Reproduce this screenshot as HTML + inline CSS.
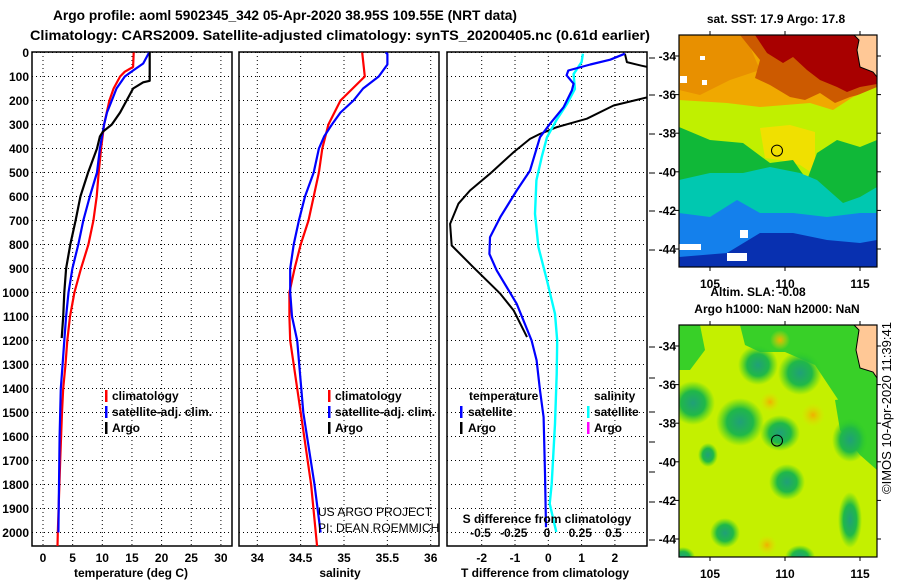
<!DOCTYPE html>
<html><head><meta charset="utf-8"><style>
html,body{margin:0;padding:0;background:#fff;}
svg{display:block;font-family:"Liberation Sans",sans-serif;}
.b{font-weight:bold;font-size:12px;}
</style></head><body>
<svg id="fig" width="900" height="580" viewBox="0 0 900 580" xmlns="http://www.w3.org/2000/svg">
<text x="285" y="20" text-anchor="middle" font-weight="bold" font-size="14" textLength="464" lengthAdjust="spacingAndGlyphs">Argo profile: aoml 5902345_342 05-Apr-2020 38.95S 109.55E (NRT data)</text>
<text x="340" y="40" text-anchor="middle" font-weight="bold" font-size="14" textLength="620" lengthAdjust="spacingAndGlyphs">Climatology: CARS2009. Satellite-adjusted climatology: synTS_20200405.nc (0.61d earlier)</text>
<g id="panels"></g>
<g id="maps"></g>
</svg>
<script>
// ---------- data ----------
const depthTicks = [0,100,200,300,400,500,600,700,800,900,1000,1100,1200,1300,1400,1500,1600,1700,1800,1900,2000];
const tempTicks = [0,5,10,15,20,25,30];
const salTicks = [34,34.5,35,35.5,36];
const dTTicks = [-2,-1,0,1,2];
const dSTicks = [-0.5,-0.25,0,0.25,0.5];
const dSTickLabels = ["-0.5","-0.25","0","0.25","0.5"];

const tempClimDepth = [0,60,80,100,150,200,300,400,500,600,700,800,900,1000,1100,1200,1300,1400,1500,1700,2000,2058];
const tempClim = [15.3,15.2,13.8,13.0,11.9,11.2,10.3,9.8,9.4,9.05,8.5,7.65,6.4,5.3,4.55,4.1,3.8,3.4,3.2,2.9,2.5,2.45];
const tempSatDepth = [0,46,75,100,150,200,250,300,400,500,600,700,800,900,1000,1100,1200,1300,1400,1600,1800,2000];
const tempSat = [17.9,16.9,15.2,13.8,12.4,11.6,10.8,10.3,9.6,9.1,7.9,6.8,5.95,4.95,4.3,3.9,3.6,3.3,3.0,2.8,2.7,2.6];
const tempArgoDepth = [0,118,124,150,200,250,300,330,350,400,500,600,700,800,900,1000,1100,1190];
const tempArgo = [18.0,18.0,16.9,15.2,14.1,13.0,11.6,10.1,9.6,9.1,7.6,6.3,5.5,4.6,3.9,3.6,3.4,3.15];

const salClimDepth = [0,100,200,300,400,500,600,700,800,900,1000,1100,1200,1500,1800,2058];
const salClim = [35.21,35.24,34.96,34.82,34.75,34.71,34.65,34.59,34.50,34.43,34.37,34.37,34.38,34.50,34.62,34.69];
const salSatDepth = [0,6,50,100,150,200,250,300,350,400,500,600,700,800,900,1000,1100,1200,1500,1800,2000];
const salSat = [35.48,35.5,35.5,35.40,35.22,35.11,34.96,34.86,34.77,34.71,34.65,34.55,34.48,34.42,34.38,34.38,34.40,34.46,34.53,34.66,34.73];

const dTArgoDepth = [5,40,55,64,120,186,221,276,311,339,360,415,505,575,630,714,804,895,1005,1075,1186];
const dTArgo = [2.3,2.36,2.8,3.1,3.8,3.0,1.96,1.16,0.26,-0.25,-0.55,-1.04,-1.75,-2.35,-2.7,-2.95,-2.9,-2.25,-1.44,-1.04,-0.64];
const dTSatDepth = [5,30,50,75,95,130,158,228,297,353,422,492,575,686,770,839,908,1047,1200,1283,1408,1519,1755,1978];
const dTSat = [2.3,1.86,1.26,0.6,0.55,0.76,0.71,0.46,0.05,-0.25,-0.4,-0.55,-0.95,-1.44,-1.75,-1.77,-1.55,-0.95,-0.5,-0.35,-0.25,-0.14,-0.1,-0.07];
const dSSatDepth = [5,40,90,152,214,283,353,436,533,672,811,950,1089,1200,1339,1547,1797,1880,1950,1998];
const dSSat = [0.27,0.26,0.2,0.21,0.15,0.07,0,-0.04,-0.08,-0.09,-0.065,0,0.06,0.077,0.073,0.06,0.035,0.02,0.05,0.07];

// ---------- helpers ----------
const NS = "http://www.w3.org/2000/svg";
const panelsG = document.getElementById('panels');
function mk(tag, attrs, parent){
  const e = document.createElementNS(NS, tag);
  for (const k in attrs) e.setAttribute(k, attrs[k]);
  (parent||panelsG).appendChild(e);
  return e;
}
const TOP = 52, BOT = 546;
const yScale = d => 52.5 + d*0.24;
const xTemp = t => 43 + t*5.93;
const xSal = s => 257.3 + (s-34)*86.7;
const xdT = v => 548.3 + v*33.3;
const xdS = v => 547 + v*133;

const panels = [
  {x0:32,x1:232,name:'temperature-panel'},
  {x0:239,x1:439,name:'salinity-panel'},
  {x0:447,x1:647,name:'difference-panel'}
];
let clipN = 0;
function panelFrame(p, xticks, xs, labels){
  const g = mk('g',{});
  
  
  const cid = 'clip'+(clipN++);
  const cp = mk('clipPath',{id:cid},g);
  mk('rect',{x:p.x0,y:TOP,width:p.x1-p.x0,height:BOT-TOP},cp);
  // grid
  depthTicks.forEach(d=>{
    const l = mk('line',{x1:p.x0,x2:p.x1,y1:yScale(d),y2:yScale(d),stroke:'#000','stroke-width':1,'stroke-dasharray':'1,3'},g);
    
    
  });
  xticks.forEach((v,i)=>{
    const x = xs(v);
    const l = mk('line',{x1:x,x2:x,y1:TOP,y2:BOT,stroke:'#000','stroke-width':1,'stroke-dasharray':'1,3'},g);
    
    
    if(labels){
      const t = mk('text',{x:x,y:562,'text-anchor':'middle','class':'b'},g);
      t.textContent = labels[i];
      
      
    }
  });
  const r = mk('rect',{x:p.x0,y:TOP,width:p.x1-p.x0,height:BOT-TOP,fill:'none',stroke:'#000','stroke-width':1.5},g);
  
  
  return {g, cid};
}
function series(fr, depths, vals, xs, color, name, w){
  const pts = depths.map((d,i)=>xs(vals[i]).toFixed(1)+','+yScale(d).toFixed(1)).join(' ');
  const pl = mk('polyline',{points:pts,fill:'none',stroke:color,'stroke-width':w||2.2,'stroke-linejoin':'round','clip-path':'url(#'+fr.cid+')'},fr.g);
  
  
}
function txt(x,y,s,name,attrs,parent){
  const t = mk('text',Object.assign({x:x,y:y},attrs||{}),parent);
  t.textContent = s;
  
  
  return t;
}
function legendBar(x,y,color,name){
  const r = mk('rect',{x:x,y:y-10,width:2.5,height:12,fill:color});
  
  
}

// y tick labels
depthTicks.forEach(d=>{
  const t = mk('text',{x:29,y:yScale(d)+4.5,'text-anchor':'end','class':'b'});
  t.textContent = String(d);
  
  
});

// panel 1
const f1 = panelFrame(panels[0], tempTicks, xTemp, tempTicks.map(String));
series(f1, tempClimDepth, tempClim, xTemp, '#ff0000', 'temp-climatology-line');
series(f1, tempSatDepth, tempSat, xTemp, '#0000ff', 'temp-satellite-clim-line');
series(f1, tempArgoDepth, tempArgo, xTemp, '#000000', 'temp-argo-line');
txt(131,577,'temperature (deg C)','x-axis-title-temperature',{'text-anchor':'middle','class':'b'});

// panel 2
const f2 = panelFrame(panels[1], salTicks, xSal, salTicks.map(String));
series(f2, salClimDepth, salClim, xSal, '#ff0000', 'sal-climatology-line');
series(f2, salSatDepth, salSat, xSal, '#0000ff', 'sal-satellite-clim-line');
txt(340,577,'salinity','x-axis-title-salinity',{'text-anchor':'middle','class':'b'});

// panel 3
const f3 = panelFrame(panels[2], dTTicks, xdT, dTTicks.map(String));
series(f3, dTArgoDepth, dTArgo, xdT, '#000000', 'tdiff-argo-line', 2);
series(f3, dSSatDepth, dSSat, xdS, '#00ffff', 'sdiff-satellite-line', 2.4);
series(f3, dTSatDepth, dTSat, xdT, '#0000ff', 'tdiff-satellite-line', 2.2);
txt(545,577,'T difference from climatology','x-axis-title-tdiff',{'text-anchor':'middle','class':'b'});
txt(547,523,'S difference from climatology','s-diff-axis-title',{'text-anchor':'middle','class':'b'});
dSTicks.forEach((v,i)=>{ txt(xdS(v),537,dSTickLabels[i],'s-diff-tick-label',{'text-anchor':'middle','class':'b'}); });
[58,95,134,173,211,250,347,378,412,442,472,502,540].forEach(y=>{
  const l = mk('line',{x1:649,x2:655,y1:y,y2:y,stroke:'#000','stroke-width':1});
  
  
});

// legends
legendBar(105,400,'#ff0000','legend-climatology-marker'); txt(112,400,'climatology','legend-climatology',{'class':'b'});
legendBar(105,416,'#0000ff','legend-satellite-marker'); txt(112,416,'satellite-adj. clim.','legend-satellite-adj',{'class':'b'});
legendBar(105,432,'#000','legend-argo-marker'); txt(112,432,'Argo','legend-argo',{'class':'b'});
legendBar(328,400,'#ff0000','legend2-climatology-marker'); txt(335,400,'climatology','legend2-climatology',{'class':'b'});
legendBar(328,416,'#0000ff','legend2-satellite-marker'); txt(335,416,'satellite-adj. clim.','legend2-satellite-adj',{'class':'b'});
legendBar(328,432,'#000','legend2-argo-marker'); txt(335,432,'Argo','legend2-argo',{'class':'b'});
txt(469,400,'temperature','legend3-temperature-header',{'class':'b'});
legendBar(460,416,'#0000ff','legend3-t-satellite-marker'); txt(468,416,'satellite','legend3-t-satellite',{'class':'b'});
legendBar(460,432,'#000','legend3-t-argo-marker'); txt(468,432,'Argo','legend3-t-argo',{'class':'b'});
txt(594,400,'salinity','legend3-salinity-header',{'class':'b'});
legendBar(587,416,'#00ffff','legend3-s-satellite-marker'); txt(594,416,'satellite','legend3-s-satellite',{'class':'b'});
legendBar(587,432,'#ff00ff','legend3-s-argo-marker'); txt(594,432,'Argo','legend3-s-argo',{'class':'b'});
txt(318,516,'US ARGO PROJECT','credit-project',{'font-size':'12'});
txt(318,532,'PI: DEAN ROEMMICH','credit-pi',{'font-size':'12'});

// ---------- maps ----------
const mapsG = document.getElementById('maps');
const mX0=679, mX1=877;
const lonX = lon => 710 + (lon-105)*15;
function mapFrame(top, latY, title1, title2, name){
  const g = mk('g',{},mapsG);
  
  
  return g;
}
function poly(g, pts, fill, name, extra){
  const p = mk('polygon',Object.assign({points:pts.map(q=>q.join(',')).join(' '),fill:fill},extra||{}),g);
  
  
}
// SST map
const g1 = mapFrame(); 
const c1 = mk('clipPath',{id:'mclip1'},g1); mk('rect',{x:mX0,y:35,width:198,height:232},c1);
const s1 = mk('g',{'clip-path':'url(#mclip1)'},g1);
poly(s1,[[679,35],[877,35],[877,267],[679,267]],'#f0a800','sst-orange');
poly(s1,[[679,35],[745,35],[760,70],[730,80],[700,95],[679,90]],'#e89000','sst-orange-dark-left');
poly(s1,[[740,35],[760,60],[755,78],[770,85],[790,97],[805,100],[820,93],[835,103],[850,97],[877,90],[877,35]],'#cc5a00','sst-brown');
poly(s1,[[755,35],[767,53],[783,63],[793,57],[807,70],[820,80],[837,87],[847,92],[860,87],[877,84],[877,35]],'#a80000','sst-darkred');
poly(s1,[[679,100],[727,103],[760,107],[810,103],[833,110],[853,97],[877,87],[877,267],[679,267]],'#c0f000','sst-yellowgreen');
poly(s1,[[760,128],[790,125],[815,132],[815,175],[800,165],[780,160],[765,158]],'#f0e000','sst-yellow');
poly(s1,[[679,127],[710,140],[743,143],[770,163],[793,160],[807,180],[817,153],[837,140],[860,147],[877,140],[877,267],[679,267]],'#10b838','sst-green');
poly(s1,[[679,180],[710,173],[743,173],[770,167],[800,173],[817,180],[843,203],[860,197],[877,187],[877,267],[679,267]],'#00c8b0','sst-teal');
poly(s1,[[679,213],[710,217],[737,200],[760,213],[793,213],[827,217],[860,213],[877,213],[877,267],[679,267]],'#1480ec','sst-blue');
poly(s1,[[679,257],[727,253],[760,233],[793,233],[827,240],[860,243],[877,240],[877,267],[679,267]],'#0830b0','sst-darkblue');
[[679,244,22,6],[727,253,20,8],[740,230,8,8],[680,76,7,7],[702,80,5,5],[700,56,5,4]].forEach(r=>{
  const w = mk('rect',{x:r[0],y:r[1],width:r[2],height:r[3],fill:'#fff'},s1);
  
  
});
poly(s1,[[854,35],[859,40],[857,50],[860,67],[873,72],[877,77],[877,35]],'#ffc896','sst-land',{stroke:'#000','stroke-width':1});
// SLA map
const g2 = mk('g',{},mapsG);  
const c2 = mk('clipPath',{id:'mclip2'},g2); mk('rect',{x:mX0,y:325,width:198,height:232},c2);
const s2 = mk('g',{'clip-path':'url(#mclip2)'},g2);
mk('rect',{x:679,y:325,width:198,height:232,fill:'#c4f000'},s2);
const defs = mk('defs',{},g2);
const rg = mk('radialGradient',{id:'blob'},defs);
mk('stop',{offset:'0','stop-color':'#20a078'},rg);
mk('stop',{offset:'0.55','stop-color':'#20b848'},rg);
mk('stop',{offset:'1','stop-color':'#30d020','stop-opacity':'0'},rg);
const og = mk('radialGradient',{id:'oblob'},defs);
mk('stop',{offset:'0','stop-color':'#f0b000'},og);
mk('stop',{offset:'1','stop-color':'#e0e000','stop-opacity':'0'},og);
const greenAreas = [[[740,325],[877,325],[877,420],[855,425],[835,395],[815,365],[785,352],[760,352],[745,345]],[[835,400],[877,395],[877,470],[860,455],[840,430]],[[679,325],[700,325],[705,350],[690,370],[679,370]]];
greenAreas.forEach(a=>poly(s2,a,'#38d028','sla-green-area'));
[[758,365,20,20],[800,373,22,22],[693,403,22,22],[740,422,24,24],[780,433,20,18],[787,482,18,18],[725,533,15,15],[850,520,12,28],[800,557,15,12],[683,557,12,10],[850,440,18,22],[708,455,10,12]].forEach(b=>{
  const e = mk('ellipse',{cx:b[0],cy:b[1],rx:b[2],ry:b[3],fill:'url(#blob)'},s2);
  
  
});
[[780,340,10],[813,415,12],[770,402,10],[767,545,10]].forEach(b=>{
  const e = mk('circle',{cx:b[0],cy:b[1],r:b[2],fill:'url(#oblob)'},s2);
  
  
});
poly(s2,[[854,325],[859,330],[856,350],[860,368],[873,372],[877,378],[877,325]],'#ffc896','sla-land',{stroke:'#000','stroke-width':1});

// map frames, ticks, labels
[[35,56,'sst'],[325,346,'sla']].forEach(m=>{
  const top=m[0], y34=m[1], k=m[2];
  const r = mk('rect',{x:mX0,y:top,width:198,height:232,fill:'none',stroke:'#000','stroke-width':1.2},mapsG);
   
  [-34,-36,-38,-40,-42,-44].forEach(lat=>{
    const y = y34 + (-34-lat)*19.3;
    mk('line',{x1:mX0-4,x2:mX0,y1:y,y2:y,stroke:'#000'},mapsG);
    mk('line',{x1:mX1,x2:mX1+4,y1:y,y2:y,stroke:'#000'},mapsG);
    txt(676,y+4.5,String(lat),k+'-lat-label',{'text-anchor':'end','class':'b'},mapsG);
  });
  [105,110,115].forEach(lon=>{
    const x = lonX(lon);
    mk('line',{x1:x,x2:x,y1:top-4,y2:top,stroke:'#000'},mapsG);
    mk('line',{x1:x,x2:x,y1:top+232,y2:top+236,stroke:'#000'},mapsG);
    txt(x,top+253,String(lon),k+'-lon-label',{'text-anchor':'middle','class':'b'},mapsG);
  });
  const c = mk('circle',{cx:777,cy:y34+4.9*19.3,r:5.5,fill:'none',stroke:'#000','stroke-width':1},mapsG);
   
});
txt(776,23,'sat. SST: 17.9 Argo: 17.8','sst-map-title',{'text-anchor':'middle','class':'b'},mapsG);
txt(758,296,'Altim. SLA: -0.08','sla-value-label',{'text-anchor':'middle','class':'b'},mapsG);
txt(777,313,'Argo h1000: NaN h2000: NaN','sla-map-title',{'text-anchor':'middle','class':'b'},mapsG);
txt(0,0,'\u00A9IMOS 10-Apr-2020 11:39:41','imos-timestamp',{'text-anchor':'middle','font-size':'13','transform':'translate(891,408) rotate(-90)'},mapsG);
</script>
</body></html>
